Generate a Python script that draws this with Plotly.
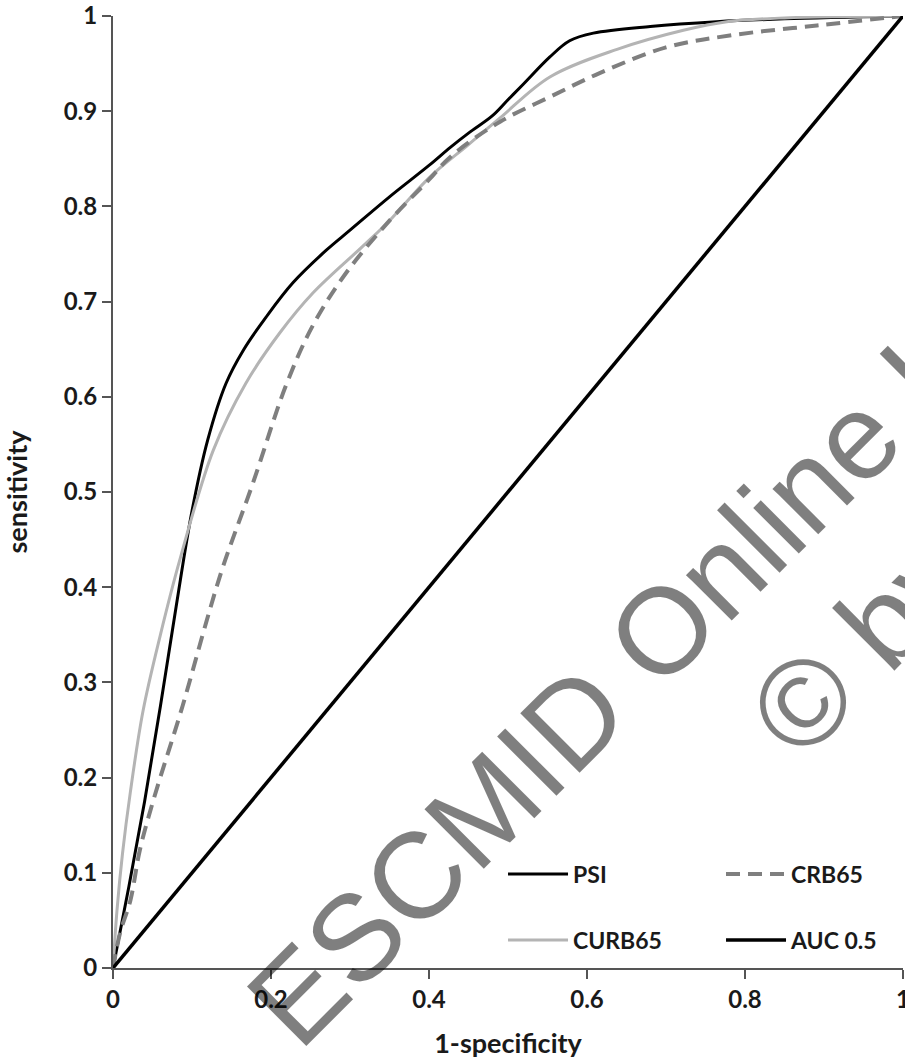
import plotly.graph_objects as go

# ---------------- data ----------------
psi_x = [0, 0.02, 0.04, 0.06, 0.08, 0.1, 0.12, 0.143, 0.165, 0.194, 0.228, 0.27, 0.3,
         0.35, 0.4, 0.427, 0.45, 0.48, 0.5, 0.519, 0.553, 0.578, 0.608, 0.68, 0.764,
         0.85, 1.0]
psi_y = [0, 0.085, 0.175, 0.275, 0.38, 0.48, 0.555, 0.614, 0.649, 0.684, 0.72, 0.754,
         0.775, 0.81, 0.843, 0.862, 0.877, 0.895, 0.912, 0.928, 0.957, 0.974, 0.982, 0.989,
         0.994, 0.997, 1.0]

curb_x = [0, 0.005, 0.012, 0.022, 0.038, 0.06, 0.085, 0.127, 0.168, 0.211, 0.253, 0.316,
          0.35, 0.4, 0.45, 0.49, 0.553, 0.638, 0.722, 0.777, 0.85, 1.0]
curb_y = [0, 0.06, 0.12, 0.185, 0.27, 0.35, 0.43, 0.544, 0.614, 0.667, 0.709, 0.758,
          0.785, 0.83, 0.865, 0.893, 0.936, 0.965, 0.985, 0.994, 0.998, 1.0]

crb_x = [0, 0.009, 0.022, 0.034, 0.051, 0.088, 0.119, 0.139, 0.177, 0.219, 0.253, 0.295,
         0.35, 0.4, 0.427, 0.49, 0.553, 0.616, 0.70, 0.785, 0.891, 1.0]
crb_y = [0, 0.037, 0.071, 0.124, 0.176, 0.275, 0.366, 0.421, 0.509, 0.612, 0.675, 0.73,
         0.785, 0.828, 0.852, 0.889, 0.915, 0.94, 0.967, 0.98, 0.99, 1.0]

ref_x = [0, 1]
ref_y = [0, 1]

x_ticks = [0, 0.2, 0.4, 0.6, 0.8, 1]
y_ticks = [0, 0.1, 0.2, 0.3, 0.4, 0.5, 0.6, 0.7, 0.8, 0.9, 1]

FONT = "Lato"
TXT = "#1a1a1a"

fig = go.Figure()
fig.add_trace(go.Scatter(x=psi_x, y=psi_y, mode="lines", name="PSI",
                         line=dict(color="#000000", width=3, shape="spline"),
                         legend="legend"))
fig.add_trace(go.Scatter(x=curb_x, y=curb_y, mode="lines", name="CURB65",
                         line=dict(color="#b4b4b4", width=3, shape="spline"),
                         legend="legend2"))
fig.add_trace(go.Scatter(x=crb_x, y=crb_y, mode="lines", name="CRB65",
                         line=dict(color="#7f7f7f", width=4, shape="spline", dash="14px,8px"),
                         legend="legend"))
fig.add_trace(go.Scatter(x=ref_x, y=ref_y, mode="lines", name="AUC 0.5",
                         line=dict(color="#000000", width=3.5),
                         legend="legend2"))

axis_common = dict(showgrid=False, zeroline=False, showline=True, linecolor="#555555",
                   linewidth=2, ticks="outside", ticklen=9, tickwidth=1.5,
                   tickcolor="#555555", ticklabeloverflow="allow",
                   tickfont=dict(family=FONT, size=24, color=TXT, weight="bold"))

fig.update_xaxes(range=[0, 1], tickvals=x_ticks, ticktext=[f"{v:g}" for v in x_ticks],
                 title=dict(text="1-specificity", standoff=22,
                            font=dict(family=FONT, size=27, color=TXT, weight="bold")),
                 **axis_common)
fig.update_yaxes(range=[0, 1], tickvals=y_ticks, ticktext=[f"{v:g}" for v in y_ticks],
                 title=dict(text="sensitivity", standoff=31,
                            font=dict(family=FONT, size=27, color=TXT, weight="bold")),
                 **axis_common)

legend_font = dict(family=FONT, size=23, color=TXT, weight="bold")
fig.update_layout(
    width=905, height=1061,
    margin=dict(l=113, r=2, t=16, b=93, autoexpand=False),
    paper_bgcolor="white", plot_bgcolor="white",
    legend=dict(orientation="h", x=0.4937, y=0.0987, xanchor="left", yanchor="middle",
                entrywidth=143, itemwidth=60, font=legend_font,
                bgcolor="rgba(0,0,0,0)", traceorder="normal"),
    legend2=dict(orientation="h", x=0.4937, y=0.0294, xanchor="left", yanchor="middle",
                 entrywidth=143, itemwidth=60, font=legend_font,
                 bgcolor="rgba(0,0,0,0)", traceorder="normal"),
    showlegend=True,
)

# watermark
wm_font = dict(family="Liberation Sans", size=122, color="rgba(0,0,0,0.5)")
fig.add_annotation(text="ESCMID Online Lecture Library", xref="paper", yref="paper",
                   x=0.963, y=0.577, xanchor="center", yanchor="middle",
                   textangle=-45, showarrow=False, font=wm_font)
fig.add_annotation(text="© by author", xref="paper", yref="paper",
                   x=1.116, y=0.480, xanchor="center", yanchor="middle",
                   textangle=-45, showarrow=False, font=wm_font)

fig.write_html("out.html")
